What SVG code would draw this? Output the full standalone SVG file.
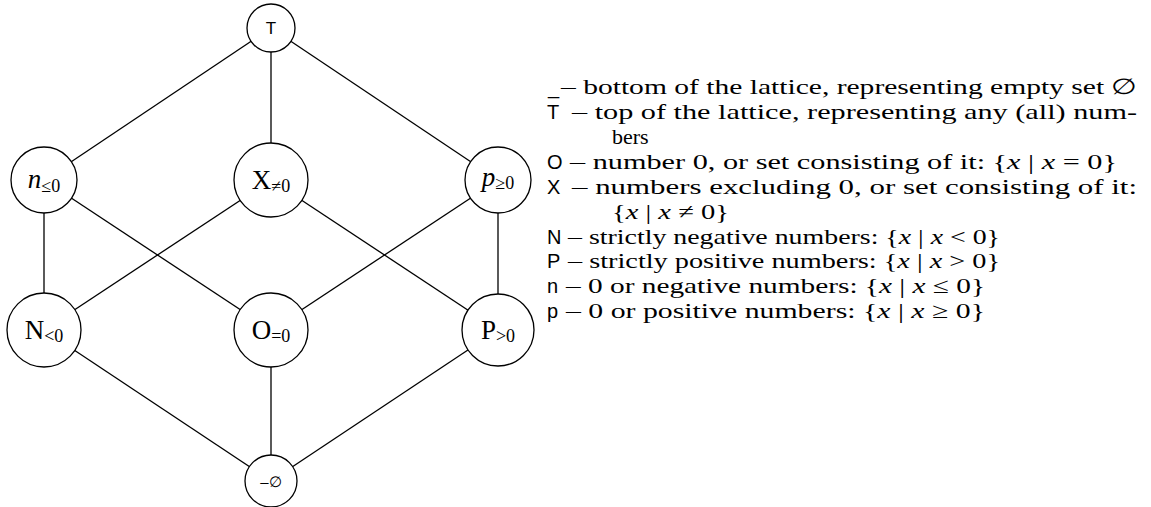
<svg xmlns="http://www.w3.org/2000/svg" width="1151" height="507" viewBox="0 0 1151 507">
<style>
.node{fill:#fff;stroke:#000;stroke-width:1.3}
.edge{stroke:#000;stroke-width:1.3;fill:none}
.lbl{font-family:"Liberation Serif",serif;font-size:27px;fill:#000}
.sub{font-size:18px}
.it{font-style:italic}
.sans{font-family:"Liberation Sans",Arial,sans-serif}
.leg{font-family:"Liberation Serif",serif;font-size:22px;fill:#000}
.key{font-family:"Liberation Sans",Arial,sans-serif;font-size:20px;fill:#000}
</style>
<rect width="1151" height="507" fill="#fff"/>
<g id="connectors">
<line class="edge" x1="271" y1="28" x2="44" y2="180"/>
<line class="edge" x1="271" y1="28" x2="271" y2="180"/>
<line class="edge" x1="271" y1="28" x2="498" y2="180"/>
<line class="edge" x1="44" y1="180" x2="44" y2="330"/>
<line class="edge" x1="44" y1="180" x2="271" y2="330"/>
<line class="edge" x1="271" y1="180" x2="44" y2="330"/>
<line class="edge" x1="271" y1="180" x2="498" y2="330"/>
<line class="edge" x1="498" y1="180" x2="271" y2="330"/>
<line class="edge" x1="498" y1="180" x2="498" y2="330"/>
<line class="edge" x1="44" y1="330" x2="271" y2="481"/>
<line class="edge" x1="271" y1="330" x2="271" y2="481"/>
<line class="edge" x1="498" y1="330" x2="271" y2="481"/>
</g>
<g id="top"><circle class="node" cx="271" cy="28" r="24"/><text class="sans" x="271" y="34" font-size="17" text-anchor="middle">T</text></g>
<g id="n"><circle class="node" cx="44" cy="180" r="33"/><text class="lbl" x="44" y="188" text-anchor="middle"><tspan class="it">n</tspan><tspan class="sub" dy="4">≤0</tspan></text></g>
<g id="X"><circle class="node" cx="271" cy="180" r="37"/><text class="lbl" x="271" y="189" text-anchor="middle">X<tspan class="sub" dy="3">≠0</tspan></text></g>
<g id="p"><circle class="node" cx="498" cy="180" r="33"/><text class="lbl" x="498" y="186" text-anchor="middle"><tspan class="it">p</tspan><tspan class="sub" dy="3">≥0</tspan></text></g>
<g id="N"><circle class="node" cx="44" cy="330" r="37"/><text class="lbl" x="44" y="339" text-anchor="middle">N<tspan class="sub" dy="3">&lt;0</tspan></text></g>
<g id="O"><circle class="node" cx="271" cy="330" r="37"/><text class="lbl" x="271" y="339" text-anchor="middle">O<tspan class="sub" dy="3">=0</tspan></text></g>
<g id="P"><circle class="node" cx="498" cy="330" r="36"/><text class="lbl" x="498" y="339" text-anchor="middle">P<tspan class="sub" dy="3">&gt;0</tspan></text></g>
<g id="bottom"><circle class="node" cx="271" cy="481" r="26"/><text class="sans" x="271" y="487" font-size="15" text-anchor="middle">–∅</text></g>
<g id="legend">
<text class="key" x="548" y="94" font-size="12">_</text>
<text class="leg" x="561" y="94" textLength="576" lengthAdjust="spacingAndGlyphs">– bottom of the lattice, representing empty set ∅</text>
<text class="key" x="547" y="119">T</text>
<text class="leg" x="572" y="119" textLength="565" lengthAdjust="spacingAndGlyphs">– top of the lattice, representing any (all) num-</text>
<text class="leg" x="612" y="144">bers</text>
<text class="key" x="547" y="169">O</text>
<text class="leg" x="570" y="169" textLength="547" lengthAdjust="spacingAndGlyphs">– number 0, or set consisting of it: {<tspan class="it">x</tspan> | <tspan class="it">x</tspan> = 0}</text>
<text class="key" x="547" y="194">X</text>
<text class="leg" x="572" y="194" textLength="565" lengthAdjust="spacingAndGlyphs">– numbers excluding 0, or set consisting of it:</text>
<text class="leg" x="612" y="219" textLength="117" lengthAdjust="spacingAndGlyphs">{<tspan class="it">x</tspan> | <tspan class="it">x</tspan> ≠ 0}</text>
<text class="key" x="547" y="244">N</text>
<text class="leg" x="568" y="244" textLength="432" lengthAdjust="spacingAndGlyphs">– strictly negative numbers: {<tspan class="it">x</tspan> | <tspan class="it">x</tspan> &lt; 0}</text>
<text class="key" x="547" y="268">P</text>
<text class="leg" x="568" y="268" textLength="432" lengthAdjust="spacingAndGlyphs">– strictly positive numbers: {<tspan class="it">x</tspan> | <tspan class="it">x</tspan> &gt; 0}</text>
<text class="key" x="547" y="293">n</text>
<text class="leg" x="566" y="293" textLength="419" lengthAdjust="spacingAndGlyphs">– 0 or negative numbers: {<tspan class="it">x</tspan> | <tspan class="it">x</tspan> ≤ 0}</text>
<text class="key" x="547" y="318">p</text>
<text class="leg" x="566" y="318" textLength="419" lengthAdjust="spacingAndGlyphs">– 0 or positive numbers: {<tspan class="it">x</tspan> | <tspan class="it">x</tspan> ≥ 0}</text>
</g>
</svg>
